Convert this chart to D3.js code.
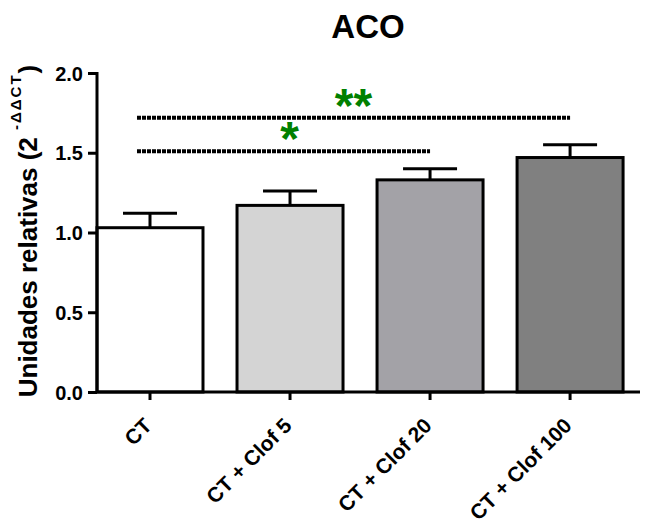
<!DOCTYPE html>
<html>
<head>
<meta charset="utf-8">
<script src="https://cdn.jsdelivr.net/npm/d3@7"></script>
<style>
  body { margin: 0; background: #fff; overflow: hidden; }
  svg { display: block; }
  text { font-family: "Liberation Sans", Arial, sans-serif; font-weight: bold; }
</style>
</head>
<body>
<div class="chart"></div>
<script>
const groups = ["CT", "CT + Clof 5", "CT + Clof 20", "CT + Clof 100"];
const means = [1.03, 1.17, 1.33, 1.47];
const errors = [0.09, 0.09, 0.07, 0.08];
const fills = ["#ffffff", "#d4d4d4", "#a3a2a7", "#808080"];
const yTicks = [0, 0.5, 1.0, 1.5, 2.0];
// significance brackets: from group, to group, height, label
const sigFrom = ["CT", "CT"];
const sigTo = ["CT + Clof 20", "CT + Clof 100"];
const sigLevel = [1.51, 1.72];
const sigLabel = ["*", "**"];

const width = 646,
  height = 529,
  plotLeft = 97,
  plotTop = 73,
  plotBottom = 392,
  axisEnd = 640;

const svg = d3
  .select(".chart")
  .append("svg")
  .attr("width", width)
  .attr("height", height);

const yScale = d3.scaleLinear().domain([0, 2]).range([plotBottom, plotTop]);

const xScale = d3
  .scaleBand()
  .domain(groups)
  .range([plotLeft, plotLeft + 140 * 4 - 2])
  .paddingInner(0.243)
  .paddingOuter(0.114)
  .align(0);

// title
svg
  .append("text")
  .attr("x", 368)
  .attr("y", 38)
  .attr("text-anchor", "middle")
  .style("font-size", "33px")
  .text("ACO");

// bars
svg
  .selectAll(".bar")
  .data(groups)
  .enter()
  .append("rect")
  .attr("x", (d) => xScale(d))
  .attr("y", (d, i) => yScale(means[i]))
  .attr("width", xScale.bandwidth())
  .attr("height", (d, i) => plotBottom - yScale(means[i]))
  .attr("fill", (d, i) => fills[i])
  .attr("stroke", "#000")
  .attr("stroke-width", 3);

// error bars
const cx = (d) => xScale(d) + xScale.bandwidth() / 2;
svg
  .selectAll(".err")
  .data(groups)
  .enter()
  .append("path")
  .attr("d", (d, i) => {
    const yt = yScale(means[i] + errors[i]);
    const yb = yScale(means[i]);
    return `M${cx(d)},${yb}V${yt}M${cx(d) - 27},${yt}H${cx(d) + 27}`;
  })
  .attr("stroke", "#000")
  .attr("stroke-width", 3)
  .attr("fill", "none");

// y axis
const yAxis = svg
  .append("g")
  .attr("transform", `translate(${plotLeft},0)`)
  .call(
    d3.axisLeft(yScale).tickValues(yTicks).tickFormat(d3.format(".1f")).tickSize(9).tickPadding(5)
  );
yAxis.select(".domain").attr("stroke-width", 3).attr("d", `M0,${plotTop - 1}V${plotBottom + 1}`);
yAxis.selectAll(".tick line").attr("stroke-width", 3);
yAxis
  .selectAll("text")
  .attr("dy", "0.35em")
  .style("font-size", "20px")
  .style("font-weight", "bold")
  .attr("fill", "#000");

// x axis
svg
  .append("line")
  .attr("x1", plotLeft - 1)
  .attr("x2", axisEnd)
  .attr("y1", plotBottom)
  .attr("y2", plotBottom)
  .attr("stroke", "#000")
  .attr("stroke-width", 3);

svg
  .selectAll(".xtick")
  .data(groups)
  .enter()
  .append("line")
  .attr("x1", cx)
  .attr("x2", cx)
  .attr("y1", plotBottom)
  .attr("y2", plotBottom + 8)
  .attr("stroke", "#000")
  .attr("stroke-width", 3);

svg
  .selectAll(".xlabel")
  .data(groups)
  .enter()
  .append("text")
  .attr("text-anchor", "end")
  .attr("transform", (d) => `translate(${cx(d) + 3},${plotBottom + 35}) rotate(-45)`)
  .style("font-size", "21px")
  .text((d) => d);

// y label
const ylab = svg
  .append("text")
  .attr("transform", `translate(37,231) rotate(-90)`)
  .attr("text-anchor", "middle")
  .style("font-size", "26px");
ylab.append("tspan").text("Unidades relativas (2 ");
ylab
  .append("tspan")
  .attr("dy", -16)
  .style("font-size", "15px")
  .style("letter-spacing", "2px")
  .text("-ΔΔCT");
ylab.append("tspan").attr("dy", 16).text(")");

// significance lines
svg
  .selectAll(".sig")
  .data(sigLevel)
  .enter()
  .append("line")
  .attr("x1", (d, i) => cx(sigFrom[i]) - 13)
  .attr("x2", (d, i) => cx(sigTo[i]))
  .attr("y1", (d) => yScale(d))
  .attr("y2", (d) => yScale(d))
  .attr("stroke", "#000")
  .attr("stroke-width", 4)
  .attr("stroke-dasharray", "4,1");

svg
  .selectAll(".star")
  .data(sigLevel)
  .enter()
  .append("text")
  .attr("x", (d, i) => (cx(sigFrom[i]) - 13 + cx(sigTo[i])) / 2 + (i === 0 ? 6 : 0))
  .attr("y", (d) => yScale(d) + 4)
  .attr("text-anchor", "middle")
  .attr("fill", "#008000")
  .style("font-size", "48px")
  .text((d, i) => sigLabel[i]);
</script>
</body>
</html>
